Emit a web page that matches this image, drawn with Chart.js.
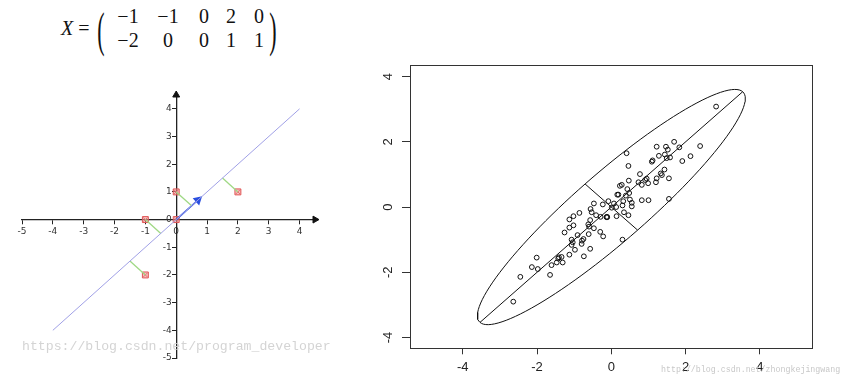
<!DOCTYPE html>
<html>
<head>
<meta charset="utf-8">
<script src="https://cdn.jsdelivr.net/npm/chart.js@4.4.0/dist/chart.umd.min.js"></script>
<style>
  html, body { margin: 0; padding: 0; background: #fff; }
  body { width: 843px; height: 391px; position: relative; overflow: hidden; }
  .m { position: absolute; font-family: "Liberation Serif", "DejaVu Serif", serif; font-size: 20px; line-height: 20px;
       color: #111; white-space: nowrap; transform: translate(-50%, -50%); }
  .paren { font-size: 20px; transform: translate(-50%, -50%) scale(1.1, 2.45); }
  #leftWrap { position: absolute; left: 0; top: 85px; }
  #rightWrap { position: absolute; left: 370px; top: 50px; }
  .wm { position: absolute; white-space: nowrap; font-family: "Liberation Mono", monospace; }
</style>
</head>
<body>
<div id="matrix"></div>
<div id="leftWrap"><canvas id="pca2d" width="345" height="285"></canvas></div>
<div id="rightWrap"><canvas id="pcaEllipse" width="473" height="341"></canvas></div>
<div class="wm" style="left:22px;top:339px;font-size:13.2px;color:#d4d4d4;">https://blog.csdn.net/program_developer</div>
<div class="wm" style="left:661px;top:365px;font-size:8.3px;color:#c8c8c8;">http://blog.csdn.net/zhongkejingwang</div>
<script>
// matrix X, one row per variable, one column per sample
const row1 = [-1, -1, 0, 2, 0];
const row2 = [-2, 0, 0, 1, 1];

// left chart: principal direction and axis ticks
const direction = [Math.SQRT1_2, Math.SQRT1_2];
const lineExtent = [-4, 4];   // x range of the projection line
const leftTicks = [-5, -4, -3, -2, -1, 0, 1, 2, 3, 4];

// right chart: samples, fitted ellipse and ticks
const sampleX = [2.82, 0.41, 1.69, 1.22, 1.47, 1.83, 2.39, 1.52, 1.28, 1.44, 1.49, 1.58, 2.13, 1.91, 1.11, 1.09, 0.46, 1.43, 1.33, 1.36,
  0.77, 0.95, 0.91, 1.22, 1.55, 1.20, 0.99, 0.82, 0.73, 0.47, 0.28, 0.23, 0.43, 0.48, 0.16, 0.19, 0.39, 0.82, 1.00, 1.55,
  0.50, 0.32, 0.55, -0.08, 0.07, 0.30, 0.55, -0.23, -0.47, 0.01, 0.34, 0.46, 0.14, -0.13, -0.11, -0.29, -0.41, -0.56, -0.53, -0.86,
  -1.02, -1.13, -1.02, -1.13, -0.57, -0.62, -0.47, -0.60, -0.30, -0.22, -0.61, -0.91, -1.26, -1.07, -1.04, -1.07, -0.79, -0.75, -0.80, -0.57,
  -0.98, -1.13, -0.74, -1.34, -1.43, -1.47, -1.31, -1.61, -2.01, -2.14, -1.98, -1.65, -2.45, -2.64, 0.30, 0.13, -0.12, -1.41];
const sampleY = [3.08, 1.65, 2.00, 1.85, 1.85, 1.83, 1.87, 1.76, 1.57, 1.61, 1.50, 1.52, 1.56, 1.41, 1.43, 1.39, 1.26, 1.15, 1.03, 0.98,
  1.01, 0.87, 0.83, 0.88, 0.88, 0.76, 0.73, 0.68, 0.76, 0.81, 0.68, 0.65, 0.55, 0.43, 0.38, 0.38, 0.35, 0.21, 0.21, 0.25,
  0.23, 0.18, 0.13, 0.18, 0.11, 0.05, 0.02, 0.08, 0.11, -0.02, -0.16, -0.25, -0.28, -0.31, -0.31, -0.30, -0.25, -0.06, -0.16, -0.18,
  -0.28, -0.38, -0.56, -0.63, -0.40, -0.53, -0.65, -0.60, -0.76, -0.90, -0.83, -0.86, -0.78, -1.00, -1.08, -1.16, -1.03, -0.98, -1.13, -1.28,
  -1.31, -1.46, -1.51, -1.53, -1.58, -1.70, -1.70, -1.78, -1.55, -1.84, -1.90, -2.08, -2.14, -2.90, -1.00, 0.00, -0.30, -1.54];
const ellipseAxes = [5.0, 1.0];   // semi-major, semi-minor
const ellipseAngle = 45;          // degrees
const rightTicks = [-4, -2, 0, 2, 4];

// ---- matrix text ----
const mat = document.getElementById('matrix');
function put(txt, x, y, cls) {
  const d = document.createElement('div');
  d.className = 'm' + (cls ? ' ' + cls : '');
  d.style.left = x + 'px';
  d.style.top = y + 'px';
  d.textContent = txt;
  mat.appendChild(d);
  return d;
}
put('X', 67, 28).style.fontStyle = 'italic';
put('=', 84, 28);
put('(', 101, 29, 'paren');
put(')', 273, 29, 'paren');
const colX = [128, 168, 204, 231, 259];
const fmt = v => (v < 0 ? '\u2212' + Math.abs(v) : String(v));
row1.forEach((v, i) => put(fmt(v), colX[i], 16));
row2.forEach((v, i) => put(fmt(v), colX[i], 40));

// ---- left chart ----
const samples = row1.map((x, i) => ({ x: x, y: row2[i] }));
const proj = p => {
  const t = p.x * direction[0] + p.y * direction[1];
  return { x: t * direction[0], y: t * direction[1] };
};
const greenLines = samples.filter(p => p.x !== 0 || p.y !== 0).map(p => ({
  data: [p, proj(p)], showLine: true, borderColor: '#9fd884', borderWidth: 1.3, pointRadius: 0
}));

const fixTicks = list => axis => { axis.ticks = list.map(v => ({ value: v })); };
const smallFont = { family: 'DejaVu Sans', size: 9 };

new Chart(document.getElementById('pca2d'), {
  type: 'scatter',
  data: {
    datasets: [
      {
        data: lineExtent.map(x => ({ x: x, y: x * direction[1] / direction[0] })),
        showLine: true, borderColor: '#a0a0e6', borderWidth: 1, pointRadius: 0
      },
      ...greenLines,
      {
        data: [{ x: 0, y: 0 }, { x: direction[0], y: direction[1] }],
        showLine: true, borderColor: '#2a4fe0', borderWidth: 1.6,
        pointRadius: [0, 4], pointStyle: 'triangle', rotation: 48,
        backgroundColor: '#2a4fe0', pointBorderColor: '#2a4fe0'
      },
      {
        data: samples, pointStyle: 'rect', pointRadius: 4.2,
        backgroundColor: 'rgba(240,150,150,0.6)', borderColor: '#e05555', borderWidth: 1
      },
      {
        data: samples, pointStyle: 'crossRot', pointRadius: 3,
        borderColor: '#d63a3a', borderWidth: 1
      },
      {
        data: [{ x: 4.5, y: 0 }], pointStyle: 'triangle', rotation: 90, pointRadius: 4,
        backgroundColor: '#111', borderColor: '#111', clip: false
      },
      {
        data: [{ x: 0, y: 4.5 }], pointStyle: 'triangle', rotation: 0, pointRadius: 4,
        backgroundColor: '#111', borderColor: '#111', clip: false
      }
    ]
  },
  options: {
    responsive: false, animation: false, devicePixelRatio: 1,
    layout: { padding: { left: 22, right: 30, top: 10, bottom: 12 } },
    plugins: { legend: { display: false }, tooltip: { enabled: false } },
    scales: {
      x: {
        type: 'linear', min: -5, max: 4.5, position: { y: 0 },
        afterBuildTicks: fixTicks(leftTicks),
        afterFit: a => { a.height = 0; },
        grid: { drawOnChartArea: false, tickLength: 4, color: '#222' },
        border: { color: '#222', width: 1.3 },
        ticks: { font: smallFont, color: '#333', padding: 3 }
      },
      y: {
        type: 'linear', min: -5, max: 4.5, position: { x: 0 },
        afterBuildTicks: fixTicks(leftTicks),
        afterFit: a => { a.width = 0; },
        grid: { drawOnChartArea: false, tickLength: 4, color: '#222' },
        border: { color: '#222', width: 1.3 },
        // labels are right-aligned on the axis line itself, so pad them with a space
        ticks: { font: smallFont, color: '#333', callback: v => v + '\u2002' }
      }
    }
  }
});

// ---- right chart ----
const points = sampleX.map((x, i) => ({ x: x, y: sampleY[i] }));
const ang = ellipseAngle * Math.PI / 180;
const ellipsePt = t => ({
  x: ellipseAxes[0] * Math.cos(t) * Math.cos(ang) - ellipseAxes[1] * Math.sin(t) * Math.sin(ang),
  y: ellipseAxes[0] * Math.cos(t) * Math.sin(ang) + ellipseAxes[1] * Math.sin(t) * Math.cos(ang)
});
const outline = [];
for (let k = 0; k <= 120; k++) outline.push(ellipsePt(2 * Math.PI * k / 120));

const rFont = { family: 'Liberation Sans', size: 13 };
new Chart(document.getElementById('pcaEllipse'), {
  type: 'scatter',
  data: {
    datasets: [
      { data: outline, showLine: true, borderColor: '#111', borderWidth: 1, pointRadius: 0 },
      { data: [ellipsePt(0), ellipsePt(Math.PI)], showLine: true, borderColor: '#111', borderWidth: 1, pointRadius: 0 },
      { data: [ellipsePt(Math.PI / 2), ellipsePt(-Math.PI / 2)], showLine: true, borderColor: '#111', borderWidth: 1, pointRadius: 0 },
      {
        data: points, pointStyle: 'circle', pointRadius: 2.4, borderWidth: 1,
        borderColor: '#111', backgroundColor: 'rgba(0,0,0,0)'
      }
    ]
  },
  options: {
    responsive: false, animation: false, devicePixelRatio: 1,
    layout: { padding: 0 },
    plugins: { legend: { display: false }, tooltip: { enabled: false } },
    scales: {
      x: {
        type: 'linear', min: -5.42, max: 5.42, position: 'bottom',
        afterBuildTicks: fixTicks(rightTicks),
        afterFit: a => { a.height = 42.7; },
        grid: { drawOnChartArea: false, tickLength: 6, color: '#333' },
        border: { color: '#333' },
        ticks: { font: rFont, color: '#222', padding: 5 }
      },
      y: {
        type: 'linear', min: -4.33, max: 4.33, position: 'left',
        afterBuildTicks: fixTicks(rightTicks),
        afterFit: a => { a.width = 40; },
        grid: { drawOnChartArea: false, tickLength: 8, color: '#333' },
        border: { color: '#333' },
        ticks: { font: rFont, color: '#222', padding: 8, minRotation: 90, maxRotation: 90, crossAlign: 'center' }
      },
      x2: {
        type: 'linear', min: -5.42, max: 5.42, position: 'top', display: true,
        afterFit: a => { a.height = 10; },
        grid: { display: false }, ticks: { display: false },
        border: { display: true, color: '#333' }
      },
      y2: {
        type: 'linear', min: -4.33, max: 4.33, position: 'right', display: true,
        afterFit: a => { a.width = 30.3; },
        grid: { display: false }, ticks: { display: false },
        border: { display: true, color: '#333' }
      }
    }
  }
});
</script>
</body>
</html>
